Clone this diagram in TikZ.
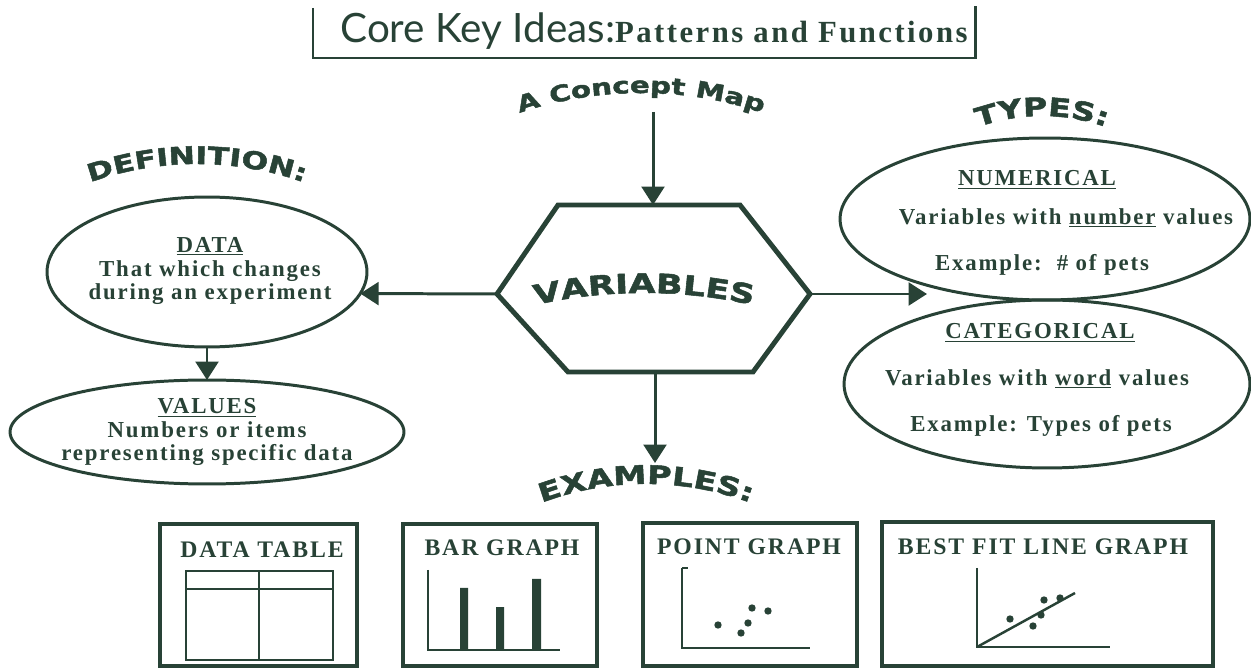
\documentclass[tikz,border=0pt]{standalone}
\usepackage{fontspec}
\usepackage{tikz}
\usetikzlibrary{shapes.geometric,arrows.meta,decorations.text}
\setmainfont{Liberation Serif}
\newfontfamily\bodyfont{Liberation Serif}[LetterSpace=8]
\newfontfamily\headfont{DejaVu Sans}[FakeStretch=1.3,FakeBold=2]
\newfontfamily\playfont{Lato}
\definecolor{ink}{RGB}{40,66,54}

\begin{document}
\begin{tikzpicture}[x=0.02cm, y=-0.02cm, color=ink,
  every node/.style={inner sep=0pt, outer sep=0pt, align=center, font=\bodyfont\bfseries\fontsize{13}{13.6}\selectfont},
  bubble/.style={draw, ellipse, line width=1.7pt},
  arr/.style={line width=1.7pt, -{Triangle[width=13pt,length=10.5pt]}},
  exbox/.style={line width=2.2pt},
  axis/.style={line width=1.4pt},
  boxtitle/.style={font=\bodyfont\bfseries\fontsize{13.5}{13.5}\selectfont},
  arctext/.style 2 args={decorate, decoration={text along path, text align=center, text color=ink, text={|\headfont\bfseries\fontsize{#1}{#1}\selectfont|#2}}}]
\useasboundingbox (0,0) rectangle (1251,668);

\draw[line width=1.7pt] (313,8) -- (313,58) -- (975,58) -- (975,6);
\node (title) at (654,31) {{\playfont\mdseries\fontsize{23}{23}\selectfont Core Key Ideas:}{\fontsize{17.5}{17.5}\selectfont Patterns and Functions}};

\path[arctext={12.8}{A Concept Map}] ([shift={(249:380)}]641,473) arc[start angle=249, end angle=291, radius=380];
\path[arctext={13.8}{DEFINITION:}] ([shift={(247:320)}]197,484) arc[start angle=247, end angle=293, radius=320];
\path[arctext={14.5}{TYPES:}] ([shift={(244:190)}]1042,306) arc[start angle=244, end angle=296, radius=190];
\path[arctext={14.6}{EXAMPLES:}] ([shift={(246:300)}]646,784) arc[start angle=246, end angle=294, radius=300];
\path[arctext={15.3}{VARIABLES}] ([shift={(253:500)}]644,793) arc[start angle=253, end angle=287, radius=500];

\coordinate (hexN) at (653,205);
\coordinate (hexS) at (655,372);
\coordinate (hexW) at (497,294);
\coordinate (hexE) at (810,294);
\draw[line width=2.8pt, line join=miter] (558,205) -- (740,205) -- (hexE) -- (753,372) -- (568,372) -- (hexW) -- cycle;

\node[bubble, minimum width=6.4cm, minimum height=3cm] (data) at (207,272) {};
\node (dataTxt) at (210,271) {\underline{DATA}\\That which changes\\during an experiment};
\node[bubble, minimum width=7.88cm, minimum height=2.08cm] (values) at (207,432) {};
\node (valuesTxt) at (207,432) {\underline{VALUES}\\Numbers or items\\representing specific data};

\node[bubble, minimum width=8.2cm, minimum height=3.24cm] (num) at (1045,219) {};
\node (numHead) at (1037,180) {\underline{NUMERICAL}};
\node (numDef) at (1066,218) {Variables with \underline{number} values};
\node (numEx) at (1042,265) {Example:\ \ \# of pets};
\node[bubble, minimum width=8.12cm, minimum height=3.36cm] (cat) at (1047,384) {};
\node (catHead) at (1040,333) {\underline{CATEGORICAL}};
\node (catDef) at (1037,379) {Variables with \underline{word} values};
\node (catEx) at (1041,426) {Example: Types of pets};

\coordinate (mapFoot) at (653,112);
\coordinate (typesTip) at (927,294);
\coordinate (exTip) at (655,463);
\draw[arr] (mapFoot) -- (hexN);
\draw[arr] (hexW) -- (data.-8.2);
\draw[arr] (hexE) -- (typesTip);
\draw[arr] (hexS) -- (exTip);
\draw[arr] (data.south) -- (values.north);

\draw[exbox] (160,524) rectangle (357,666);
\node[boxtitle] (tblTitle) at (262,550) {DATA TABLE};
\draw[line width=1.2pt] (186,571) rectangle (333,660) (186,589) -- (333,589) (259,571) -- (259,660);

\draw[exbox] (403,524) rectangle (597,666);
\node[boxtitle] (barTitle) at (502,548) {BAR GRAPH};
\draw[axis] (428,570) -- (428,650) -- (560,650);
\fill (460,588) rectangle (468,650) (496,607) rectangle (504,650) (532,579) rectangle (541,650);

\draw[exbox] (643,523) rectangle (857,666);
\node[boxtitle] (ptTitle) at (749,547) {POINT GRAPH};
\draw[axis] (682,568) -- (682,648) -- (810,648);
\draw[line width=0.8pt] (682,568) -- (688,568);
\foreach \p in {(718,625),(741,633),(748,623),(752,608),(768,611)}
  \fill \p circle (2.1pt);

\draw[exbox] (882,522) rectangle (1213,666);
\node[boxtitle] (fitTitle) at (1043,547) {BEST FIT LINE GRAPH};
\draw[axis] (977,568) -- (977,647) -- (1110,647);
\draw[axis] (977,647) -- (1075,593);
\foreach \p in {(1010,619),(1033,626),(1041,615),(1044,600),(1060,598)}
  \fill \p circle (2.1pt);
\end{tikzpicture}
\end{document}
